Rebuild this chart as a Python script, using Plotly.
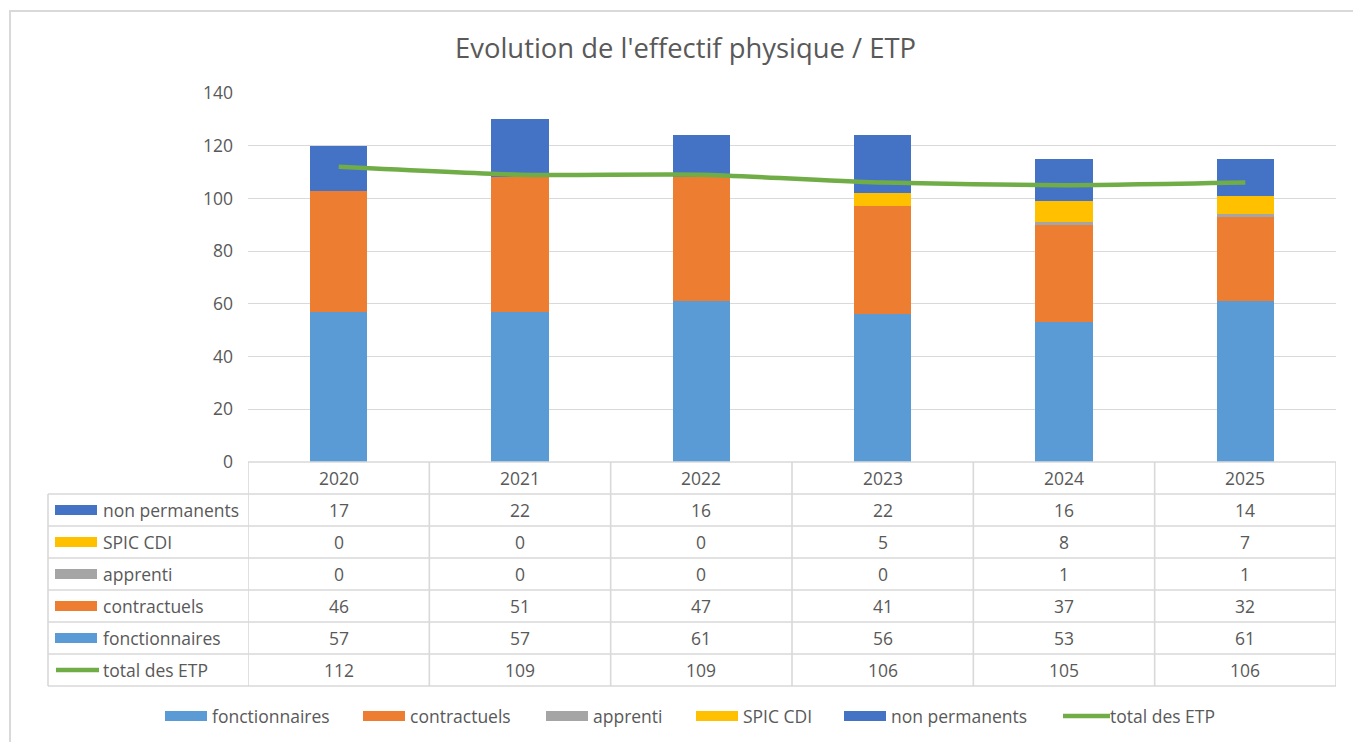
import plotly.graph_objects as go

# ---------------- data ----------------
years = ["2020", "2021", "2022", "2023", "2024", "2025"]
fonctionnaires = [57, 57, 61, 56, 53, 61]
contractuels = [46, 51, 47, 41, 37, 32]
apprenti = [0, 0, 0, 0, 1, 1]
spic_cdi = [0, 0, 0, 5, 8, 7]
non_permanents = [17, 22, 16, 22, 16, 14]
total_etp = [112, 109, 109, 106, 105, 106]
y_ticks = [0, 20, 40, 60, 80, 100, 120, 140]

title_text = "Evolution de l'effectif physique / ETP"

bar_series = [
    ("fonctionnaires", fonctionnaires, "#5B9BD5"),
    ("contractuels", contractuels, "#ED7D31"),
    ("apprenti", apprenti, "#A5A5A5"),
    ("SPIC CDI", spic_cdi, "#FFC000"),
    ("non permanents", non_permanents, "#4472C4"),
]
line_name = "total des ETP"
line_color = "#70AD47"

# ---------------- geometry (pixels) ----------------
W, H = 1353, 742
PL, PR, PT, PB = 248, 1336, 93, 462      # plot area
PW, PH = PR - PL, PB - PT
FONT = "Open Sans, Noto Sans, sans-serif"
TXT = "#595959"
GRID = "#D9D9D9"
FS = 17.5


def xp(px):
    return (px - PL) / PW


def yp(py):
    return (PB - py) / PH


fig = go.Figure()
for name, vals, col in bar_series:
    fig.add_trace(go.Bar(x=years, y=vals, name=name, marker=dict(color=col, line=dict(width=0)),
                         showlegend=False))
fig.add_trace(go.Scatter(x=years, y=total_etp, name=line_name, mode="lines",
                         line=dict(color=line_color, width=4.5, shape="spline", smoothing=0.6),
                         showlegend=False))

shapes = []
annotations = []

# outer chart border
shapes.append(dict(type="rect", xref="paper", yref="paper", x0=xp(10), x1=xp(1362), y0=yp(11), y1=yp(752),
                   line=dict(color=GRID, width=2), fillcolor="rgba(0,0,0,0)", layer="below"))

# ---------------- data table ----------------
header_top, header_bot = 462, 494
row_h = 32
table_rows = [
    ("non permanents", non_permanents, "#4472C4", "bar"),
    ("SPIC CDI", spic_cdi, "#FFC000", "bar"),
    ("apprenti", apprenti, "#A5A5A5", "bar"),
    ("contractuels", contractuels, "#ED7D31", "bar"),
    ("fonctionnaires", fonctionnaires, "#5B9BD5", "bar"),
    (line_name, total_etp, line_color, "line"),
]
table_bottom = header_bot + row_h * len(table_rows)
tl = dict(color=GRID, width=1.6)

# horizontal lines
shapes.append(dict(type="line", xref="paper", yref="paper", x0=0, x1=1, y0=yp(header_top), y1=yp(header_top), line=tl))
for r in range(len(table_rows) + 1):
    yy = header_bot + r * row_h
    shapes.append(dict(type="line", xref="paper", yref="paper", x0=xp(48), x1=1, y0=yp(yy), y1=yp(yy), line=tl))
# vertical lines
shapes.append(dict(type="line", xref="paper", yref="paper", x0=xp(48), x1=xp(48), y0=yp(header_bot), y1=yp(table_bottom), line=tl))
for i in range(len(years) + 1):
    xx = i - 0.5
    shapes.append(dict(type="line", xref="x", yref="paper", x0=xx, x1=xx, y0=yp(header_top), y1=yp(table_bottom), line=tl))

# header labels (years)
for i, yr in enumerate(years):
    annotations.append(dict(x=i, xref="x", y=yp((header_top + header_bot) / 2), yref="paper", text=yr,
                            showarrow=False, font=dict(family=FONT, size=FS, color=TXT), xanchor="center", yanchor="middle"))

for r, (name, vals, col, kind) in enumerate(table_rows):
    cy = header_bot + r * row_h + row_h / 2
    if kind == "bar":
        shapes.append(dict(type="rect", xref="paper", yref="paper", x0=xp(55), x1=xp(97), y0=yp(cy - 5), y1=yp(cy + 5),
                           fillcolor=col, line=dict(width=0)))
    else:
        shapes.append(dict(type="line", xref="paper", yref="paper", x0=xp(56), x1=xp(99), y0=yp(cy), y1=yp(cy),
                           line=dict(color=col, width=4.5)))
    annotations.append(dict(x=xp(101), xref="paper", y=yp(cy), yref="paper", text=name, showarrow=False,
                            font=dict(family=FONT, size=FS, color=TXT), xanchor="left", yanchor="middle"))
    for i, v in enumerate(vals):
        annotations.append(dict(x=i, xref="x", y=yp(cy), yref="paper", text=str(v), showarrow=False,
                                font=dict(family=FONT, size=FS, color=TXT), xanchor="center", yanchor="middle"))

# ---------------- bottom legend ----------------
legend_y = 716
legend_items = [
    ("fonctionnaires", "#5B9BD5", "bar", 165),
    ("contractuels", "#ED7D31", "bar", 363),
    ("apprenti", "#A5A5A5", "bar", 546),
    ("SPIC CDI", "#FFC000", "bar", 696),
    ("non permanents", "#4472C4", "bar", 844),
    (line_name, line_color, "line", 1063),
]
for name, col, kind, x0 in legend_items:
    if kind == "bar":
        shapes.append(dict(type="rect", xref="paper", yref="paper", x0=xp(x0), x1=xp(x0 + 42),
                           y0=yp(legend_y - 5), y1=yp(legend_y + 5), fillcolor=col, line=dict(width=0)))
    else:
        shapes.append(dict(type="line", xref="paper", yref="paper", x0=xp(x0), x1=xp(x0 + 47),
                           y0=yp(legend_y), y1=yp(legend_y), line=dict(color=col, width=4.5)))
    annotations.append(dict(x=xp(x0 + 45), xref="paper", y=yp(legend_y), yref="paper",
                            text=name, showarrow=False, font=dict(family=FONT, size=FS, color=TXT),
                            xanchor="left", yanchor="middle"))

fig.update_layout(
    width=W, height=H,
    margin=dict(l=PL, r=W - PR, t=PT, b=H - PB, pad=0),
    paper_bgcolor="white", plot_bgcolor="white",
    barmode="stack", bargap=0.685,
    title=dict(text=title_text, x=685.5 / W, xanchor="center", y=1 - 48 / H, yanchor="middle",
               font=dict(family=FONT, size=27.4, color=TXT)),
    xaxis=dict(type="category", showticklabels=False, showgrid=False, zeroline=False, showline=False,
               range=[-0.5, len(years) - 0.5]),
    yaxis=dict(range=[0, 140], tickvals=y_ticks, showgrid=True, gridcolor=GRID, gridwidth=1.3,
               zeroline=False, showline=False, ticks="", ticklabelstandoff=14,
               tickfont=dict(family=FONT, size=FS, color=TXT)),
    shapes=shapes, annotations=annotations, showlegend=False,
)

fig.write_html("out.html", config={"displayModeBar": False},
               post_script="document.body.style.margin='0';")
